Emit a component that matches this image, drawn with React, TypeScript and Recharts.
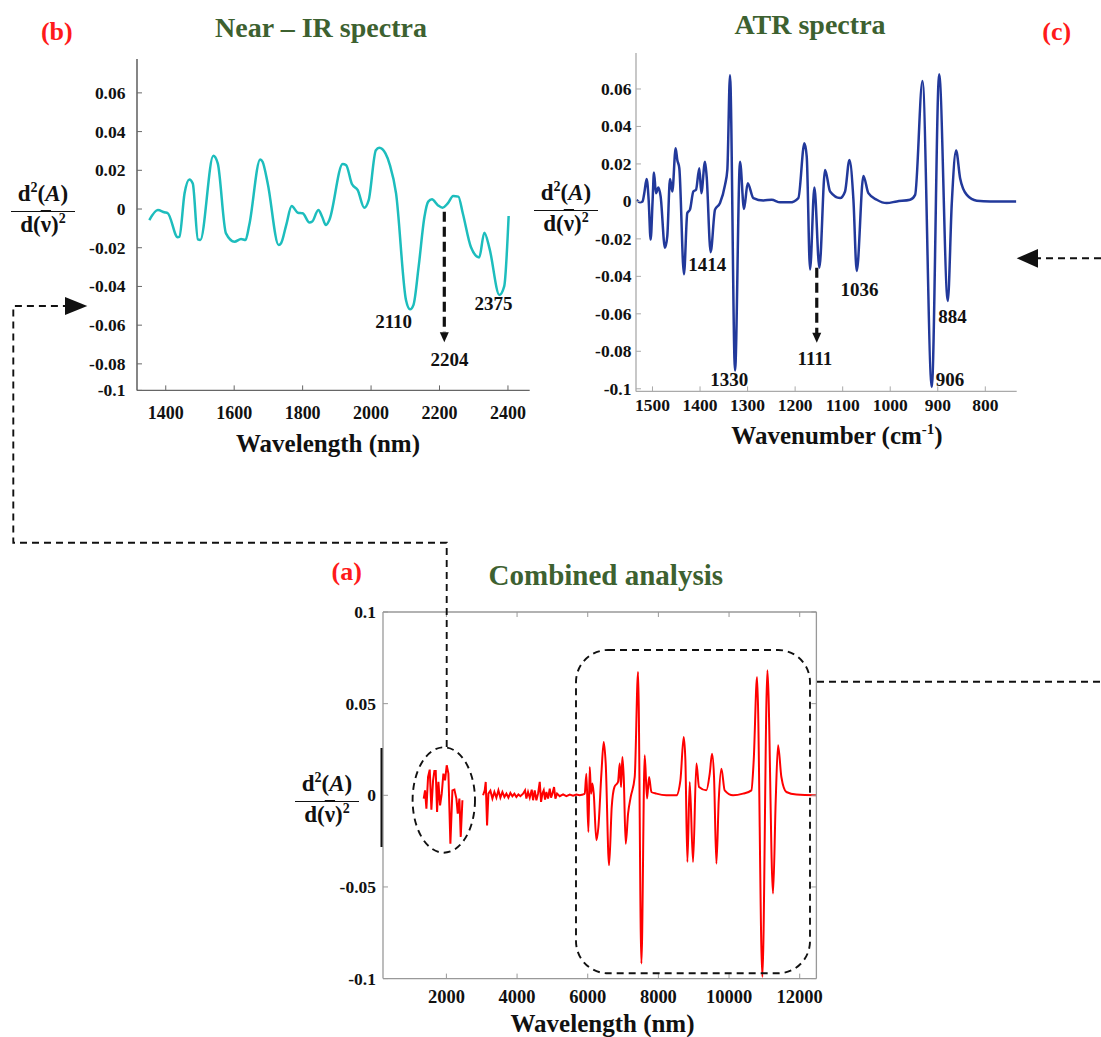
import React from 'react';
import { LineChart, Line, XAxis, YAxis, ReferenceLine, ReferenceDot } from 'recharts';

// Near-IR second derivative (panel b)
const nirWl = [
  1352, 1377, 1396, 1406, 1435, 1440, 1455, 1469, 1479, 1494,
  1501, 1539, 1552, 1576, 1601, 1620, 1633, 1644, 1676, 1683,
  1698, 1730, 1737, 1752, 1768, 1786, 1800, 1820, 1828, 1846,
  1857, 1868, 1878, 1917, 1927, 1944, 1961, 1980, 1993, 2014,
  2024, 2042, 2055, 2073, 2102, 2114, 2124, 2139, 2156, 2167,
  2178, 2195, 2209, 2224, 2240, 2255, 2268, 2292, 2316, 2331,
  2346, 2375, 2389, 2402,
];
const nirVal = [
  -0.0057, -0.0005, -0.0017, -0.0022, -0.0146, -0.0143, 0.0081, 0.0153, 0.0132, -0.0157,
  -0.016, 0.0275, 0.0236, -0.0126, -0.0169, -0.0155, -0.016, -0.0083, 0.0256, 0.0244,
  0.0132, -0.0186, -0.0177, -0.0083, 0.0015, -0.0019, -0.0022, -0.007, -0.0065, -0.0005,
  -0.004, -0.0083, -0.0057, 0.0232, 0.0227, 0.0129, 0.0098, 0.0007, 0.0046, 0.0304,
  0.0316, 0.0287, 0.0227, 0.0081, -0.047, -0.0518, -0.0495, -0.0298, -0.004, 0.0038,
  0.005, 0.002, 0.0007, 0.0029, 0.0067, 0.0064, -0.0022, -0.0198, -0.025, -0.0122,
  -0.0203, -0.0444, -0.04, -0.0036,
];

// ATR second derivative (panel c)
const atrWn = [
  1533.4, 1526.4, 1520.8, 1517.3, 1512.3, 1508.1, 1503.9, 1499.7, 1496.9, 1492.7,
  1487.8, 1482.9, 1473.8, 1468.9, 1463.2, 1458.3, 1451.3, 1447.8, 1443.6, 1433.8,
  1426.8, 1421.2, 1414.1, 1408.5, 1401.5, 1397.3, 1389.6, 1386.1, 1377.7, 1368.5,
  1358.0, 1347.5, 1342.6, 1337.0, 1326.4, 1315.9, 1307.5, 1299.8, 1287.9, 1266.8,
  1249.3, 1231.7, 1210.7, 1193.2, 1180.5, 1175.6, 1168.6, 1159.5, 1149.0, 1137.0,
  1126.5, 1105.5, 1095.0, 1085.8, 1077.4, 1070.4, 1056.4, 1045.9, 1028.3, 1007.3,
  986.2, 958.2, 947.6, 932.2, 912.6, 897.1, 878.9, 870.5, 861.4, 853.0,
  838.9, 817.9, 789.8, 735.1,
];
const atrVal = [
  0.0009, -0.0005, 0, 0.0044, 0.0119, 0.0009, -0.0204, 0.0009, 0.0154, 0.0044,
  0.0074, 0.0027, -0.0248, -0.0186, 0.0119, 0.0053, 0.0283, 0.0221, 0.0177, -0.0389,
  -0.0062, -0.0044, 0.0053, 0.0062, 0.0177, 0.0044, 0.0212, 0.0133, -0.0271, -0.0044,
  -0.0009, 0.0088, 0.0168, 0.0673, -0.0903, 0.0212, -0.0041, 0.0097, 0.0018, 0.0005,
  0.0009, -0.0005, -0.0005, 0.0018, 0.031, 0.0239, -0.0363, 0.0074, -0.0354, 0.0168,
  0.0053, 0.0018, 0.0053, 0.0221, 0.0009, -0.0372, 0.0136, 0.0044, 0.0009, -0.0009,
  0, 0.0009, 0.0035, 0.0642, -0.0991, 0.0678, -0.0531, -0.0009, 0.0271, 0.0124,
  0.0035, 0.0004, 0, 0,
];

// Combined spectrum (panel a), three segments
const combNirWl = [
  1358, 1396, 1434, 1481, 1528, 1575, 1623, 1660, 1698, 1736,
  1774, 1821, 1868, 1915, 1962, 2009, 2057, 2113, 2170, 2226,
  2283, 2321, 2368, 2406, 2453,
];
const combNirVal = [
  -0.0018, 0.0027, -0.0073, 0.01, 0.014, -0.0078, 0.0082, 0.0133, 0.0133, -0.0091,
  0.0073, -0.0055, 0.0009, 0.0118, 0.0082, 0.0164, 0.0118, -0.0264, 0.0027, 0.0031,
  -0.0018, -0.01, -0.0018, -0.0227, -0.0027,
];
const combMidWl = [
  3038, 3085, 3113, 3151, 3189, 3245, 3302, 3358, 3415, 3472,
  3528, 3585, 3642, 3698, 3755, 3811, 3868, 3925, 3981, 4038,
  4094, 4170, 4226, 4264, 4311, 4359, 4415, 4453, 4500, 4547,
  4594, 4642, 4679, 4717, 4755, 4792, 4830, 4877, 4925, 4962,
  5000, 5047, 5085, 5132, 5208, 5302, 5396, 5491, 5585, 5679,
  5774, 5868,
];
const combMidVal = [
  0, 0.0027, 0.0073, -0.0164, 0.0009, 0.0025, -0.0018, 0.0018, -0.0013, 0.0027,
  -0.0013, 0.0018, -0.0009, 0.0009, -0.0013, 0.0013, -0.0005, 0.0009, -0.0009, 0.0005,
  -0.0005, 0.0009, 0.0027, -0.0018, 0.0018, -0.0013, 0.0031, -0.0027, 0.0027, -0.0027,
  0.0009, 0.0073, -0.0036, 0.0009, 0.0027, -0.0024, 0.0018, -0.0018, 0.0036, -0.0013,
  0.0009, 0.0045, -0.0018, 0.0009, -0.0005, 0.0005, -0.0005, 0.0004, -0.0002, 0.0004,
  0, 0.0004,
];
const combAtrWl = [
  5915, 5962, 6019, 6057, 6094, 6132, 6170, 6245, 6302, 6387,
  6453, 6509, 6604, 6679, 6755, 6858, 6906, 6943, 6981, 7019,
  7075, 7142, 7217, 7330, 7425, 7519, 7613, 7679, 7736, 7802,
  7943, 8226, 8509, 8623, 8717, 8764, 8821, 8887, 8981, 9076,
  9151, 9359, 9453, 9519, 9575, 9642, 9708, 9783, 9877, 10113,
  10396, 10632, 10698, 10792, 10943, 11085, 11245, 11321, 11387, 11481,
  11623, 11906, 12472,
];
const combAtrVal = [
  0.0009, 0.0118, -0.02, 0.0155, 0.0009, 0.0064, 0.0009, -0.0245, -0.0173, 0.0118,
  0.0291, 0.0173, -0.0382, -0.0064, 0.0045, 0.0073, 0.0173, 0.0045, 0.0209, 0.01,
  -0.0264, -0.01, -0.0009, 0.01, 0.0673, -0.0918, 0.0218, -0.0018, 0.01, 0.0018,
  0.0009, 0, 0, 0.0082, 0.0318, 0.0191, -0.0364, 0.0073, -0.0364, 0.0173,
  0.0045, 0.0027, 0.0118, 0.0227, 0.01, -0.0373, -0.0027, 0.0145, 0.0027, 0,
  0.0009, 0.0027, 0.0191, 0.0645, -0.0991, 0.0682, -0.0536, -0.0027, 0.0273, 0.01,
  0.0018, 0.0004, 0,
];

// Ticks
const nirXTicks = [1400, 1600, 1800, 2000, 2200, 2400];
const nirYTicks = [0.06, 0.04, 0.02, 0, -0.02, -0.04, -0.06, -0.08, -0.0937];
const atrXTicks = [1500, 1400, 1300, 1200, 1100, 1000, 900, 800];
const atrYTicks = [0.06, 0.04, 0.02, 0, -0.02, -0.04, -0.06, -0.08, -0.1];
const combXTicks = [2000, 4000, 6000, 8000, 10000, 12000];
const combYTicks = [0.1, 0.05, 0, -0.05, -0.1];

// Peak annotations
const nirNotes = [
  { text: '2110', x: 2066, y: -0.058 },
  { text: '2204', x: 2229, y: -0.0776 },
  { text: '2375', x: 2358, y: -0.0489 },
];
const atrNotes = [
  { text: '1414', x: 1385, y: -0.0338 },
  { text: '1330', x: 1338.5, y: -0.0952 },
  { text: '1111', x: 1158.3, y: -0.0836 },
  { text: '1036', x: 1064.5, y: -0.0471 },
  { text: '884', x: 869.2, y: -0.0614 },
  { text: '906', x: 874.5, y: -0.0952 },
];

const nirData = nirWl.map((x, i) => ({ x, y: nirVal[i] }));
const atrData = atrWn.map((x, i) => ({ x, y: atrVal[i] }));
// raw: NIR + flat noisy part (jagged), atr: mid-IR part (smooth)
const lastMid = combMidWl.length - 1;
const combData: any[] = [
  ...combNirWl.map((x, i) => ({ x, raw: combNirVal[i] })),
  { x: 2750, raw: null },
  ...combMidWl.map((x, i) => ({ x, raw: combMidVal[i], atr: i === lastMid ? combMidVal[i] : null })),
  ...combAtrWl.map((x, i) => ({ x, atr: combAtrVal[i] })),
];

const FONT = '"Liberation Serif", "Times New Roman", serif';
const GREEN = '#3d6130';
const RED = '#ff1a1a';

const fmtY = (v: number) => (v < -0.09 ? '-0.1' : String(v));

function YTick(props: any) {
  const { x, y, payload, gap, size, color } = props;
  return (
    <g>
      <line x1={x} x2={x + 5} y1={y} y2={y} stroke={color} strokeWidth={1} />
      <text x={x - gap} y={y + size * 0.34} textAnchor="end" fontFamily={FONT}
        fontWeight="bold" fontSize={size} fill="#111">{fmtY(payload.value)}</text>
    </g>
  );
}

function XTick(props: any) {
  const { x, y, payload, off, size, color } = props;
  return (
    <g>
      <line x1={x} x2={x} y1={y} y2={y - 5} stroke={color} strokeWidth={1} />
      <text x={x} y={y + off} textAnchor="middle" fontFamily={FONT}
        fontWeight="bold" fontSize={size} fill="#111">{payload.value}</text>
    </g>
  );
}

function TopTick(props: any) {
  const { x, y, color } = props;
  return <line x1={x} x2={x} y1={y} y2={y + 5} stroke={color} strokeWidth={1} />;
}

function RightTick(props: any) {
  const { x, y, color } = props;
  return <line x1={x} x2={x - 5} y1={y} y2={y} stroke={color} strokeWidth={1} />;
}

const noteShape = (text: string) => (p: any) => (
  <text x={p.cx} y={p.cy} dy="0.35em" textAnchor="middle" fontFamily={FONT}
    fontWeight="bold" fontSize={19} fill="#111">{text}</text>
);

const arrowHead = (p: any) => (
  <polygon points={`${p.cx - 4.5},${p.cy - 10} ${p.cx + 4.5},${p.cy - 10} ${p.cx},${p.cy}`} fill="#111" />
);

function Txt({ x, y, size, color = '#111', bold = true, children }: any) {
  return (
    <div style={{
      position: 'absolute', left: x, top: y, transform: 'translate(-50%, -50%)',
      fontFamily: FONT, fontSize: size, fontWeight: bold ? 'bold' : 'normal',
      color, whiteSpace: 'nowrap', lineHeight: 1,
    }}>{children}</div>
  );
}

function Frac({ cx, barY, w }: any) {
  return (
    <div style={{
      position: 'absolute', left: cx - w / 2, top: barY - 27, width: w,
      fontFamily: FONT, fontWeight: 'bold', fontSize: 23, color: '#111',
      textAlign: 'center', lineHeight: '26px',
    }}>
      <div>d<span style={{ fontSize: 14, position: 'relative', top: -9 }}>2</span>(<i>A</i>)</div>
      <div style={{ borderTop: '1.6px solid #111', marginTop: 1 }}>
        d(<span style={{ textDecoration: 'overline' }}>ν</span>)<span style={{ fontSize: 14, position: 'relative', top: -9 }}>2</span>
      </div>
    </div>
  );
}

export default function App() {
  const bAxis = '#666';
  const cAxis = '#aaa';
  const aAxis = '#999';
  return (
    <div style={{ position: 'absolute', left: 0, top: 0, width: 1101, height: 1037, background: '#fff', overflow: 'hidden' }}>
      {/* Panel b */}
      <div style={{ position: 'absolute', left: 57.3, top: 59.3 }}>
        <LineChart width={472.7} height={371.4} data={nirData} margin={{ top: 0, right: 0, bottom: 0, left: 0 }}>
          <XAxis type="number" dataKey="x" domain={[1316, 2463.5]} ticks={nirXTicks} interval={0}
            allowDataOverflow height={40} tickSize={0} tickMargin={0} tickLine={false}
            axisLine={{ stroke: bAxis, strokeWidth: 1.3 }}
            tick={(p: any) => <XTick {...p} off={28.5} size={18} color={bAxis} />} />
          <YAxis type="number" domain={[-0.0937, 0.0775]} ticks={nirYTicks} interval={0}
            allowDataOverflow width={80} tickSize={0} tickMargin={0} tickLine={false}
            axisLine={{ stroke: '#444', strokeWidth: 1.3 }}
            tick={(p: any) => <YTick {...p} gap={11.5} size={17.5} color={bAxis} />} />
          <Line dataKey="y" type="monotone" stroke="#1dbdbd" strokeWidth={2.5} dot={false} isAnimationActive={false} />
          <ReferenceLine segment={[{ x: 2214, y: -0.0014 }, { x: 2214, y: -0.0636 }]}
            stroke="#111" strokeWidth={3.2} strokeDasharray="10 5" />
          <ReferenceDot x={2214} y={-0.0688} r={1} shape={arrowHead} />
          {nirNotes.map((n) => (
            <ReferenceDot key={n.text} x={n.x} y={n.y} r={1} shape={noteShape(n.text)} />
          ))}
        </LineChart>
      </div>

      {/* Panel c */}
      <div style={{ position: 'absolute', left: 556, top: 53.3 }}>
        <LineChart width={460.7} height={368.4} data={atrData} margin={{ top: 0, right: 0, bottom: 0, left: 0 }}>
          <XAxis type="number" dataKey="x" domain={[734, 1534.7]} reversed ticks={atrXTicks} interval={0}
            allowDataOverflow height={30} tickSize={0} tickMargin={0} tickLine={false}
            axisLine={{ stroke: cAxis, strokeWidth: 1.3 }}
            tick={(p: any) => <XTick {...p} off={19.5} size={17.5} color={cAxis} />} />
          <YAxis type="number" domain={[-0.1014, 0.0792]} ticks={atrYTicks} interval={0}
            allowDataOverflow width={80} tickSize={0} tickMargin={0} tickLine={false}
            axisLine={{ stroke: cAxis, strokeWidth: 1.3 }}
            tick={(p: any) => <YTick {...p} gap={4.5} size={17.5} color={cAxis} />} />
          <Line dataKey="y" type="monotone" stroke="#22399b" strokeWidth={2.5} dot={false} isAnimationActive={false} />
          <ReferenceLine segment={[{ x: 1154.5, y: -0.0354 }, { x: 1154.5, y: -0.0706 }]}
            stroke="#111" strokeWidth={3.2} strokeDasharray="10 5" />
          <ReferenceDot x={1154.5} y={-0.0754} r={1} shape={arrowHead} />
          {atrNotes.map((n) => (
            <ReferenceDot key={n.text} x={n.x} y={n.y} r={1} shape={noteShape(n.text)} />
          ))}
        </LineChart>
      </div>

      {/* Panel a */}
      <div style={{ position: 'absolute', left: 313.3, top: 601.7 }}>
        <LineChart width={513.4} height={406.6} data={combData} margin={{ top: 0, right: 0, bottom: 0, left: 0 }}>
          <XAxis type="number" dataKey="x" domain={[205.5, 12472]} ticks={combXTicks} interval={0}
            allowDataOverflow height={30} tickSize={0} tickMargin={0} tickLine={false}
            axisLine={{ stroke: aAxis, strokeWidth: 1.3 }}
            tick={(p: any) => <XTick {...p} off={24.5} size={18.5} color={aAxis} />} />
          <XAxis xAxisId="top" orientation="top" type="number" dataKey="x" domain={[205.5, 12472]}
            ticks={combXTicks} interval={0} allowDataOverflow height={10} tickSize={0} tickMargin={0}
            tickLine={false} axisLine={{ stroke: aAxis, strokeWidth: 1.3 }}
            tick={(p: any) => <TopTick {...p} color={aAxis} />} />
          <YAxis type="number" domain={[-0.1, 0.1]} ticks={combYTicks} interval={0}
            allowDataOverflow width={70} tickSize={0} tickMargin={0} tickLine={false}
            axisLine={{ stroke: aAxis, strokeWidth: 1.3 }}
            tick={(p: any) => <YTick {...p} gap={7} size={17.5} color={aAxis} />} />
          <YAxis yAxisId="right" orientation="right" type="number" domain={[-0.1, 0.1]} ticks={combYTicks}
            interval={0} allowDataOverflow width={10} tickSize={0} tickMargin={0} tickLine={false}
            axisLine={{ stroke: aAxis, strokeWidth: 1.3 }}
            tick={(p: any) => <RightTick {...p} color={aAxis} />} />
          <Line dataKey="raw" type="linear" stroke="#ff0000" strokeWidth={2} dot={false}
            connectNulls={false} isAnimationActive={false} />
          <Line dataKey="atr" type="monotone" stroke="#ff0000" strokeWidth={2} dot={false}
            connectNulls={false} isAnimationActive={false} />
        </LineChart>
      </div>

      {/* Titles and axis labels */}
      <Txt x={56.8} y={31.7} size={26} color={RED}>(b)</Txt>
      <Txt x={321} y={28} size={28} color={GREEN}>Near – IR spectra</Txt>
      <Txt x={810} y={25} size={28} color={GREEN}>ATR spectra</Txt>
      <Txt x={1056.7} y={32.3} size={26} color={RED}>(c)</Txt>
      <Txt x={346.7} y={571.7} size={26} color={RED}>(a)</Txt>
      <Txt x={605.8} y={575} size={29} color={GREEN}>Combined analysis</Txt>

      <Txt x={328} y={443} size={25}>Wavelength (nm)</Txt>
      <Txt x={837} y={435} size={25}>Wavenumber (cm<sup style={{ fontSize: 15 }}>-1</sup>)</Txt>
      <Txt x={602.5} y={1023.3} size={25}>Wavelength (nm)</Txt>

      <Frac cx={43} barY={208.3} w={64} />
      <Frac cx={566} barY={207.3} w={64} />
      <Frac cx={327} barY={798.3} w={64} />

      {/* Connectors */}
      <svg width={1101} height={1037} style={{ position: 'absolute', left: 0, top: 0, pointerEvents: 'none' }}>
        <g fill="none" stroke="#111" strokeWidth={1.9} strokeDasharray="7 5">
          <path d="M446.7 747 V542.7 H13.3 V306 H66" />
          <ellipse cx={443.8} cy={800} rx={31.2} ry={52.7} />
          <rect x={576} y={650} width={234} height={323.3} rx={32} />
          <path d="M817 681.7 H1101" />
          <path d="M1101 258.3 H1038" />
        </g>
        <polygon points="65,297 87.3,306 65,315" fill="#111" />
        <polygon points="1038,249 1016.7,258.3 1038,267.7" fill="#111" />
        <rect x={380.5} y={748} width={2} height={99} fill="#111" />
      </svg>
    </div>
  );
}
